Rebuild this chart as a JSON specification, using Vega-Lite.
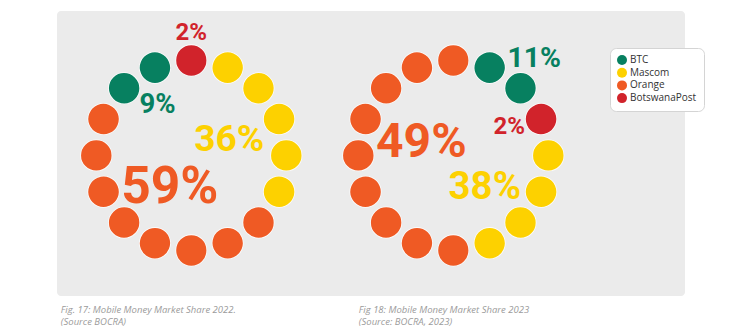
{
  "$schema": "https://vega.github.io/schema/vega-lite/v6.json",
  "width": 628,
  "height": 285,
  "autosize": "none",
  "padding": {"left": 57, "top": 11, "right": 55, "bottom": 33},
  "background": "#ffffff",
  "config": {"view": {"fill": "#ebebeb", "stroke": null, "cornerRadius": 4}},
  "data": {"values": [
    {"year": "2022", "slot": 0, "company": "BotswanaPost", "share": 0.02},
    {"year": "2022", "slot": 1, "company": "Mascom", "share": 0.36},
    {"year": "2022", "slot": 2, "company": "Mascom", "share": 0.36},
    {"year": "2022", "slot": 3, "company": "Mascom", "share": 0.36},
    {"year": "2022", "slot": 4, "company": "Mascom", "share": 0.36},
    {"year": "2022", "slot": 5, "company": "Mascom", "share": 0.36},
    {"year": "2022", "slot": 6, "company": "Orange", "share": 0.59},
    {"year": "2022", "slot": 7, "company": "Orange", "share": 0.59},
    {"year": "2022", "slot": 8, "company": "Orange", "share": 0.59},
    {"year": "2022", "slot": 9, "company": "Orange", "share": 0.59},
    {"year": "2022", "slot": 10, "company": "Orange", "share": 0.59},
    {"year": "2022", "slot": 11, "company": "Orange", "share": 0.59},
    {"year": "2022", "slot": 12, "company": "Orange", "share": 0.59},
    {"year": "2022", "slot": 13, "company": "Orange", "share": 0.59},
    {"year": "2022", "slot": 14, "company": "BTC", "share": 0.09},
    {"year": "2022", "slot": 15, "company": "BTC", "share": 0.09},
    {"year": "2023", "slot": 0, "company": "Orange", "share": 0.49},
    {"year": "2023", "slot": 1, "company": "BTC", "share": 0.11},
    {"year": "2023", "slot": 2, "company": "BTC", "share": 0.11},
    {"year": "2023", "slot": 3, "company": "BotswanaPost", "share": 0.02},
    {"year": "2023", "slot": 4, "company": "Mascom", "share": 0.38},
    {"year": "2023", "slot": 5, "company": "Mascom", "share": 0.38},
    {"year": "2023", "slot": 6, "company": "Mascom", "share": 0.38},
    {"year": "2023", "slot": 7, "company": "Mascom", "share": 0.38},
    {"year": "2023", "slot": 8, "company": "Orange", "share": 0.49},
    {"year": "2023", "slot": 9, "company": "Orange", "share": 0.49},
    {"year": "2023", "slot": 10, "company": "Orange", "share": 0.49},
    {"year": "2023", "slot": 11, "company": "Orange", "share": 0.49},
    {"year": "2023", "slot": 12, "company": "Orange", "share": 0.49},
    {"year": "2023", "slot": 13, "company": "Orange", "share": 0.49},
    {"year": "2023", "slot": 14, "company": "Orange", "share": 0.49},
    {"year": "2023", "slot": 15, "company": "Orange", "share": 0.49}
  ]},
  "encoding": {
    "x": {
      "field": "year", "type": "nominal",
      "scale": {"type": "point", "range": [134.3, 396.3], "padding": 0},
      "axis": {
        "title": null, "domain": false, "ticks": false, "grid": false,
        "labelAngle": 0, "labelAlign": "left", "labelBaseline": "top", "labelPadding": 8.5,
        "labelOffset": {"condition": {"test": "datum.value === '2022'", "value": -131}, "value": -95},
        "labelExpr": "datum.value === '2022' ? ['Fig. 17: Mobile Money Market Share 2022.', '(Source BOCRA)'] : ['Fig 18: Mobile Money Market Share 2023', '(Source: BOCRA, 2023)']",
        "labelFont": "Open Sans", "labelFontStyle": "italic", "labelFontSize": 9.5,
        "labelColor": "#9b9b9b", "labelLineHeight": 11.5, "labelLimit": 0,
        "labelOverlap": false, "labelBound": false
      }
    },
    "y": {
      "field": "year", "type": "nominal",
      "scale": {"type": "point", "range": [144.4, 144.4], "padding": 0},
      "axis": null
    },
    "color": {
      "field": "company", "type": "nominal",
      "scale": {"domain": ["BTC", "Mascom", "Orange", "BotswanaPost"], "range": ["#078060", "#fdd100", "#ef5a24", "#d1232b"]},
      "legend": {
        "title": null, "orient": "none", "legendX": 553, "legendY": 37,
        "fillColor": "#ffffff", "cornerRadius": 6, "padding": 7, "strokeColor": "#d4d4d4",
        "symbolType": "circle", "symbolSize": 100, "symbolStrokeWidth": 0, "symbolOpacity": 1,
        "labelFont": "Open Sans", "labelFontSize": 10, "labelColor": "#333333",
        "labelOffset": 3, "rowPadding": 2.7
      }
    }
  },
  "layer": [
    {
      "transform": [{"filter": "datum.year === '2022'"}],
      "mark": {"type": "arc", "radius": 95.15, "radius2": 94.85, "padAngle": 0.6, "stroke": "#ffffff", "strokeWidth": 31.8, "strokeJoin": "round", "strokeOpacity": 0.85},
      "encoding": {
        "theta": {"aggregate": "count", "type": "quantitative", "stack": true, "scale": {"range": [-0.19635, 6.08684], "nice": false}},
        "color": {"value": "#ffffff"},
        "detail": {"field": "slot", "type": "quantitative"},
        "order": {"field": "slot", "type": "quantitative"}
      }
    },
    {
      "transform": [{"filter": "datum.year === '2023'"}],
      "mark": {"type": "arc", "radius": 95.15, "radius2": 94.85, "padAngle": 0.6, "stroke": "#ffffff", "strokeWidth": 31.8, "strokeJoin": "round", "strokeOpacity": 0.85},
      "encoding": {
        "theta": {"aggregate": "count", "type": "quantitative", "stack": true, "scale": {"range": [-0.19635, 6.08684], "nice": false}},
        "color": {"value": "#ffffff"},
        "detail": {"field": "slot", "type": "quantitative"},
        "order": {"field": "slot", "type": "quantitative"}
      }
    },
    {
      "transform": [{"filter": "datum.year === '2022'"}],
      "mark": {"type": "arc", "radius": 95.15, "radius2": 94.85, "padAngle": 0.6, "strokeWidth": 30.2, "strokeJoin": "round"},
      "encoding": {
        "theta": {"aggregate": "count", "type": "quantitative", "stack": true, "scale": {"range": [-0.19635, 6.08684], "nice": false}},
        "stroke": {"field": "company", "type": "nominal", "scale": {"domain": ["BTC", "Mascom", "Orange", "BotswanaPost"], "range": ["#078060", "#fdd100", "#ef5a24", "#d1232b"]}, "legend": null},
        "detail": {"field": "slot", "type": "quantitative"},
        "order": {"field": "slot", "type": "quantitative"}
      }
    },
    {
      "transform": [{"filter": "datum.year === '2023'"}],
      "mark": {"type": "arc", "radius": 95.15, "radius2": 94.85, "padAngle": 0.6, "strokeWidth": 30.2, "strokeJoin": "round"},
      "encoding": {
        "theta": {"aggregate": "count", "type": "quantitative", "stack": true, "scale": {"range": [-0.19635, 6.08684], "nice": false}},
        "stroke": {"field": "company", "type": "nominal", "scale": {"domain": ["BTC", "Mascom", "Orange", "BotswanaPost"], "range": ["#078060", "#fdd100", "#ef5a24", "#d1232b"]}, "legend": null},
        "detail": {"field": "slot", "type": "quantitative"},
        "order": {"field": "slot", "type": "quantitative"}
      }
    },
    {
      "transform": [
        {"filter": "datum.year === '2022'"},
        {"aggregate": [{"op": "count", "as": "n"}, {"op": "max", "field": "slot", "as": "last"}], "groupby": ["year", "company", "share"]}
      ],
      "mark": {"type": "text", "font": "Roboto", "fontWeight": "bold", "align": "center", "baseline": "middle"},
      "encoding": {
        "theta": {"field": "n", "type": "quantitative", "stack": true, "scale": {"range": [-0.19635, 6.08684], "nice": false}},
        "radius": {"field": "n", "type": "quantitative", "scale": {"type": "linear", "domain": [1, 2, 5, 8], "range": [122, 60.6, 41, 38.7], "zero": false, "nice": false}},
        "order": {"field": "last", "type": "quantitative"},
        "text": {"field": "share", "type": "quantitative", "format": ".0%"},
        "size": {"field": "share", "type": "quantitative", "scale": {"domain": [0.02, 0.1, 0.37, 0.49, 0.59], "range": [24, 28, 37.5, 48, 51.5], "zero": false, "nice": false}, "legend": null}
      }
    },
    {
      "transform": [
        {"filter": "datum.year === '2023'"},
        {"aggregate": [{"op": "count", "as": "n"}, {"op": "max", "field": "slot", "as": "last"}], "groupby": ["year", "company", "share"]}
      ],
      "mark": {"type": "text", "font": "Roboto", "fontWeight": "bold", "align": "center", "baseline": "middle"},
      "encoding": {
        "theta": {"field": "share", "type": "quantitative", "stack": true, "scale": {"range": [0.34907, 6.63225], "nice": false}},
        "radius": {"field": "share", "type": "quantitative", "scale": {"type": "linear", "domain": [0.02, 0.11, 0.38, 0.49], "range": [62.7, 126.5, 44.7, 34.4], "zero": false, "nice": false}},
        "order": {"field": "last", "type": "quantitative"},
        "text": {"field": "share", "type": "quantitative", "format": ".0%"},
        "size": {"field": "share", "type": "quantitative", "scale": {"domain": [0.02, 0.1, 0.37, 0.49, 0.59], "range": [24, 28, 37.5, 48, 51.5], "zero": false, "nice": false}, "legend": null}
      }
    }
  ],
  "resolve": {"scale": {"theta": "independent", "radius": "independent"}}
}
